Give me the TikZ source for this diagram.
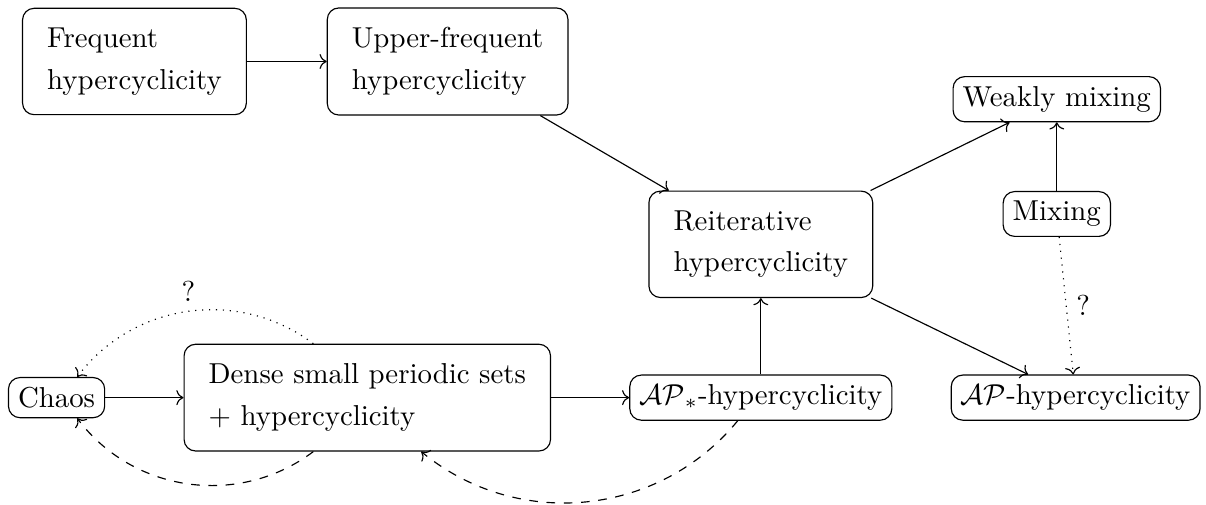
\documentclass[tikz,border=0pt]{standalone}
\usepackage{amsmath}
\usepackage{amssymb}
\usepackage{tikz}
\usetikzlibrary{arrows.meta}

\tikzset{bloc/.style={draw, rounded corners},
         grandbloc/.style={bloc, align=left, inner xsep=3mm, inner ysep=2.4mm,
                           font=\linespread{1.2}\selectfont}}

\begin{document}
\begin{tikzpicture}
        % Cadre de la figure
        \useasboundingbox (0,0) rectangle (14.71,-6.15);

        % Les blocs
        \node[grandbloc] (freq) at (1.64,-0.75) {Frequent\\hypercyclicity};
        \node[grandbloc] (upper) at (5.46,-0.75) {Upper-frequent\\hypercyclicity};
        \node[grandbloc] (reit) at (9.28,-2.98) {Reiterative\\hypercyclicity};
        \node[bloc] (weak) at (12.89,-1.21) {Weakly mixing};
        \node[bloc] (mix) at (12.89,-2.61) {Mixing};
        \node[bloc] (apstar) at (9.28,-4.85) {$\mathcal{AP}_*$-hypercyclicity};
        \node[bloc] (ap) at (13.12,-4.85) {$\mathcal{AP}$-hypercyclicity};
        \node[grandbloc] (dense) at (4.48,-4.85) {Dense small periodic sets\\+ hypercyclicity};
        \node[bloc] (chaos) at (0.69,-4.85) {Chaos};

        % Implications
        \draw[->] (freq) -- (upper);
        \draw[->] (upper) -- (reit);
        \draw[->] (reit) -- (weak);
        \draw[->] (mix) -- (weak);
        \draw[->] (reit) -- (ap);
        \draw[->] (apstar) -- (reit);
        \draw[->] (dense) -- (apstar);
        \draw[->] (chaos) -- (dense);

        % Questions ouvertes
        \draw[->, dotted] (mix) -- (ap) node[midway, right] {?};
        \draw[->, dotted] (dense) to[bend right=45] node[midway, above] {?} (chaos);

        % Retours
        \draw[->, dashed] (apstar) to[bend left=45] (dense);
        \draw[->, dashed] (dense) to[bend left=45] (chaos);
    \end{tikzpicture}
\end{document}
